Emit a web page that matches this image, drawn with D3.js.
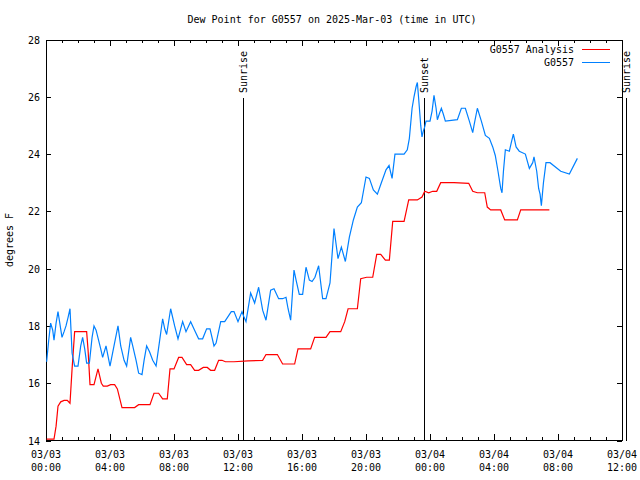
<!DOCTYPE html>
<html>
<head>
<meta charset="utf-8">
<script src="https://cdn.jsdelivr.net/npm/d3@7"></script>
<style>
  body { margin: 0; background: #fff; }
  text { font-family: "DejaVu Sans Mono", monospace; font-size: 10px; fill: #000; }
</style>
</head>
<body>
<div class="chart"></div>
<script>
// hours after 2025-03-03 00:00 UTC
var obsHours = [0.04, 0.17, 0.29, 0.42, 0.5, 0.63, 0.75, 1.0, 1.13, 1.25, 1.38, 1.5, 1.63, 1.79, 2.0, 2.17, 2.29, 2.42,
  2.54, 2.71, 2.88, 3.0, 3.13, 3.42, 3.54, 3.75, 4.0, 4.25, 4.5, 4.67, 4.88, 5.04, 5.29, 5.42, 5.63, 5.79, 6.0,
  6.13, 6.29, 6.47, 6.67, 6.88, 7.08, 7.29, 7.42, 7.54, 7.79, 8.04, 8.25, 8.54, 8.75, 9.04, 9.33, 9.54, 9.79,
  10.04, 10.25, 10.5, 10.63, 10.92, 11.17, 11.58, 11.75, 12.0, 12.25, 12.38, 12.5, 12.79, 13.04, 13.29, 13.54,
  13.75, 14.04, 14.25, 14.54, 14.79, 15.0, 15.13, 15.29, 15.5, 15.63, 15.83, 16.04, 16.25, 16.46, 16.63, 16.81,
  17.04, 17.29, 17.5, 17.75, 18.0, 18.25, 18.46, 18.71, 18.96, 19.21, 19.46, 19.71, 20.0, 20.21, 20.46, 20.71,
  20.96, 21.25, 21.44, 21.63, 21.81, 22.38, 22.58, 22.71, 22.88, 23.0, 23.13, 23.21, 23.29, 23.42, 23.5, 23.58,
  23.67, 23.75, 24.0, 24.13, 24.25, 24.38, 24.46, 24.58, 24.71, 24.83, 24.96, 25.71, 25.96, 26.21, 26.46, 26.67,
  26.75, 26.96, 27.21, 27.46, 27.71, 27.92, 28.08, 28.25, 28.42, 28.5, 28.59, 28.71, 28.96, 29.08, 29.21, 29.38,
  29.58, 29.96, 30.21, 30.42, 30.5, 30.67, 30.79, 30.88, 30.96, 31.09, 31.25, 31.5, 32.17, 32.71, 33.21];
var obsDew = [16.75, 17.5, 18.1, 17.85, 17.5, 18.1, 18.5, 17.6, 17.8, 18.0, 18.3, 18.6, 17.05, 16.6, 16.6, 17.3, 17.6, 17.2,
  16.7, 16.7, 17.6, 18.0, 17.85, 17.2, 16.9, 17.3, 16.6, 17.3, 18.0, 17.3, 16.8, 16.6, 17.6, 17.3, 16.8, 16.35, 16.3,
  16.8, 17.3, 17.1, 16.8, 16.6, 17.4, 18.25, 17.9, 17.7, 18.6, 18.0, 17.55, 18.15, 17.8, 18.15, 17.8, 17.55, 17.55,
  17.9, 17.9, 17.3, 17.4, 18.15, 18.15, 18.5, 18.5, 18.15, 18.5, 18.3, 18.15, 19.15, 18.8, 19.35, 18.55,
  18.2, 19.25, 19.3, 18.95, 18.95, 19.0, 18.6, 18.2, 19.95, 19.6, 19.1, 19.1, 20.05, 19.6, 19.55, 19.7,
  20.1, 18.95, 18.95, 19.5, 21.4, 20.35, 20.75, 20.25, 21.1, 21.7, 22.15, 22.3, 23.2, 23.15, 22.75, 22.6,
  23.0, 23.45, 23.6, 23.15, 24.0, 24.0, 24.15, 24.55, 25.6, 26.0, 26.35, 26.5, 25.95, 25.0, 24.6, 24.8,
  24.95, 25.15, 25.15, 25.5, 26.05, 25.6, 25.2, 25.4, 25.6, 25.4, 25.15, 25.2, 25.6, 25.6, 25.15, 24.75,
  25.0, 25.6, 25.15, 24.65, 24.55, 24.25, 23.95, 23.4, 22.8, 22.65, 23.4, 24.15, 24.1, 24.4, 24.7, 24.25,
  24.1, 24.0, 23.5, 23.7, 23.9, 23.4, 22.8, 22.6, 22.2, 23.0, 23.7, 23.7, 23.4, 23.3, 23.85];

var anaHours = [0.04, 0.5, 0.63, 0.75, 0.92, 1.13, 1.33, 1.5, 1.63, 1.79, 2.54, 2.63, 2.75, 3.0, 3.25, 3.46, 3.58, 3.83,
  4.04, 4.29, 4.46, 4.75, 5.54, 5.79, 6.5, 6.75, 7.04, 7.29, 7.58, 7.75, 8.0, 8.29, 8.5, 8.79, 9.04, 9.29, 9.54,
  9.83, 10.08, 10.29, 10.54, 10.79, 11.0, 11.21, 11.75, 12.63, 13.54, 13.75, 14.46, 14.79, 15.54, 15.75, 16.54,
  16.79, 17.5, 17.75, 18.42, 18.67, 18.88, 19.46, 19.67, 20.04, 20.42, 20.67, 20.92, 21.21, 21.46, 21.67, 22.38,
  22.67, 23.21, 23.5, 23.67, 23.92, 24.17, 24.42, 24.67, 25.5, 26.42, 26.67, 26.96, 27.42, 27.58, 27.79, 28.42,
  28.67, 29.46, 29.67, 30.5, 31.46];
var anaDew = [14.05, 14.05, 14.5, 15.2, 15.35, 15.4, 15.4, 15.3, 16.5, 17.8, 17.8, 17.15, 15.95, 15.95, 16.5, 16.0, 15.9, 15.9,
  15.95, 15.95, 15.8, 15.15, 15.15, 15.25, 15.25, 15.65, 15.65, 15.45, 15.45, 16.5, 16.5, 16.9, 16.9, 16.65, 16.65, 16.45, 16.45,
  16.55, 16.55, 16.45, 16.45, 16.8, 16.8, 16.75, 16.75, 16.78, 16.8, 17.0, 17.0, 16.67, 16.67, 17.2, 17.2,
  17.6, 17.6, 17.8, 17.8, 18.15, 18.6, 18.6, 19.65, 19.7, 19.7, 20.5, 20.5, 20.3, 20.3, 21.65, 21.65,
  22.4, 22.4, 22.5, 22.7, 22.65, 22.7, 22.7, 23.0, 23.0, 22.98, 22.7, 22.65, 22.65, 22.15, 22.05, 22.05,
  21.7, 21.7, 22.05, 22.05, 22.05];

var eventNames = ["Sunrise", "Sunset", "Sunrise"];
var eventHours = [12.33, 23.63, 36.28];

var seriesNames = ["G0557 Analysis", "G0557"];
var seriesColors = ["#ff0000", "#0080ff"];
var yTicks = [14, 16, 18, 20, 22, 24, 26, 28];

var svgWidth = 640;
var svgHeight = 480;
var margin = { top: 40, right: 18, bottom: 40, left: 46 };
var width = 576;
var height = 400;

var start = Date.UTC(2025, 2, 3, 0, 0);
function toDate(h) { return new Date(start + h * 3600000); }

var x = d3.scaleUtc()
  .domain([toDate(0), toDate(36)])
  .range([margin.left, margin.left + width]);
var y = d3.scaleLinear()
  .domain([14, 28])
  .range([margin.top + height + 0.5, margin.top - 0.5]);

var svg = d3.select(".chart").append("svg")
  .attr("width", svgWidth)
  .attr("height", svgHeight);

svg.append("text")
  .attr("x", 332)
  .attr("y", 23)
  .attr("text-anchor", "middle")
  .text("Dew Point for G0557 on 2025-Mar-03 (time in UTC)");

svg.append("text")
  .attr("transform", "translate(13,240) rotate(-90)")
  .attr("text-anchor", "middle")
  .text("degrees F");

// frame
svg.append("rect")
  .attr("x", margin.left + 0.5)
  .attr("y", margin.top + 0.5)
  .attr("width", width)
  .attr("height", height)
  .attr("fill", "none")
  .attr("stroke", "#000")
  .attr("shape-rendering", "crispEdges");

var hourTicks = d3.utcHour.range(toDate(0), toDate(36.01));
var ticks = svg.append("g").attr("stroke", "#000").attr("shape-rendering", "crispEdges");
hourTicks.forEach(function(d) {
  var len = d.getUTCHours() % 4 === 0 ? 6 : 3;
  var px = Math.round(x(d)) + 0.5;
  ticks.append("line").attr("x1", px).attr("x2", px)
    .attr("y1", margin.top + height).attr("y2", margin.top + height - len);
  ticks.append("line").attr("x1", px).attr("x2", px)
    .attr("y1", margin.top).attr("y2", margin.top + len);
});
yTicks.forEach(function(v) {
  var py = Math.round(y(v)) + 0.5;
  ticks.append("line").attr("x1", margin.left).attr("x2", margin.left + 5).attr("y1", py).attr("y2", py);
  ticks.append("line").attr("x1", margin.left + width).attr("x2", margin.left + width - 5).attr("y1", py).attr("y2", py);
  svg.append("text")
    .attr("x", 40)
    .attr("y", py)
    .attr("dy", "0.35em")
    .attr("text-anchor", "end")
    .text(v);
});

var fmtDay = d3.utcFormat("%m/%d");
var fmtTime = d3.utcFormat("%H:%M");
x.ticks(d3.utcHour.every(4)).forEach(function(d) {
  var g = svg.append("text").attr("text-anchor", "middle");
  g.append("tspan").attr("x", x(d)).attr("y", 458).text(fmtDay(d));
  g.append("tspan").attr("x", x(d)).attr("y", 471).text(fmtTime(d));
});

// sunrise / sunset markers
eventHours.forEach(function(h, i) {
  var px = Math.round(x(toDate(h))) + 0.5;
  svg.append("line")
    .attr("x1", px).attr("x2", px)
    .attr("y1", 98).attr("y2", margin.top + height + 1)
    .attr("stroke", "#000")
    .attr("shape-rendering", "crispEdges");
  svg.append("text")
    .attr("transform", "translate(" + px + ",93) rotate(-90)")
    .attr("dy", "0.35em")
    .attr("text-anchor", "start")
    .text(eventNames[i]);
});

var line = d3.line()
  .x(function(d) { return x(toDate(d[0])); })
  .y(function(d) { return y(d[1]); });

var series = [d3.zip(anaHours, anaDew), d3.zip(obsHours, obsDew)];
series.forEach(function(data, i) {
  svg.append("path")
    .datum(data)
    .attr("fill", "none")
    .attr("stroke", seriesColors[i])
    .attr("stroke-width", 1.2)
    .attr("d", line);
});

// legend
seriesNames.forEach(function(name, i) {
  var ly = 49 + i * 13;
  svg.append("text")
    .attr("x", 574)
    .attr("y", ly)
    .attr("dy", "0.35em")
    .attr("text-anchor", "end")
    .text(name);
  svg.append("line")
    .attr("x1", 582).attr("x2", 610)
    .attr("y1", ly + 0.5).attr("y2", ly + 0.5)
    .attr("stroke", seriesColors[i])
    .attr("shape-rendering", "crispEdges");
});
</script>
</body>
</html>
